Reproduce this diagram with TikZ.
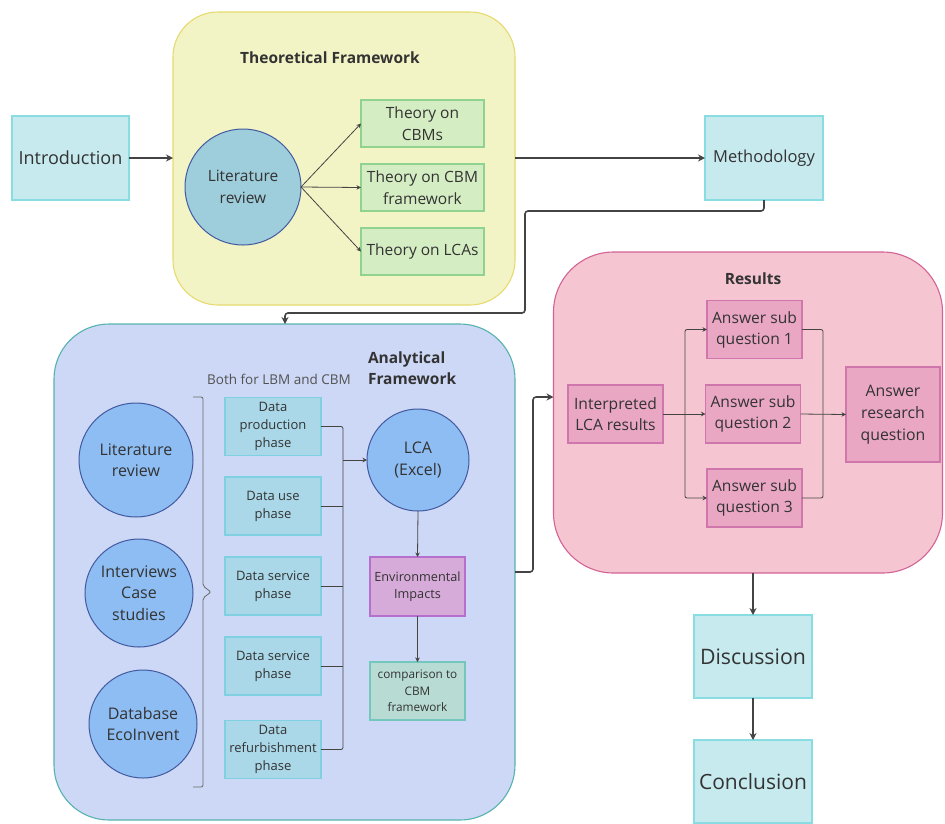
\documentclass[tikz,border=0pt]{standalone}
\usepackage{fontspec}
\setmainfont{Open Sans}
\usetikzlibrary{arrows.meta}

\definecolor{ink}{HTML}{333333}
\definecolor{wire}{HTML}{444444}
\definecolor{cyanfill}{HTML}{C6EAEE}
\definecolor{cyanline}{HTML}{8ADCE3}
\definecolor{theofill}{HTML}{F3F4C6}
\definecolor{theoline}{HTML}{E6DA70}
\definecolor{tealcirc}{HTML}{9ECDDB}
\definecolor{circline}{HTML}{4259A0}
\definecolor{greenfill}{HTML}{D5EDC3}
\definecolor{greenline}{HTML}{90D38F}
\definecolor{anafill}{HTML}{CDD8F6}
\definecolor{analine}{HTML}{56B3AD}
\definecolor{bluecirc}{HTML}{8DBDF2}
\definecolor{datafill}{HTML}{AAD8E9}
\definecolor{dataline}{HTML}{7FD0E0}
\definecolor{envfill}{HTML}{D7ABD9}
\definecolor{envline}{HTML}{B56FCD}
\definecolor{compfill}{HTML}{B8DCD4}
\definecolor{compline}{HTML}{73C7BD}
\definecolor{resfill}{HTML}{F5C6D1}
\definecolor{resline}{HTML}{D46295}
\definecolor{qfill}{HTML}{E9A7C3}
\definecolor{qline}{HTML}{CF77AC}

\newcommand\myfs[2]{\fontsize{#1}{#2}\selectfont}

\begin{document}
\begin{tikzpicture}[x=1pt,y=-1pt,
  base/.style={inner sep=0pt, outer sep=0pt, align=center, text=ink},
  box/.style={base, draw, rectangle, line width=1.1pt},
  frame/.style={base, draw, rectangle, line width=1.1pt},
  disc/.style={base, draw, circle, line width=1pt},
  heading/.style={base, font=\bfseries\myfs{15.5}{21}},
  bigarrow/.style={draw=wire, line width=1.6pt, -{Stealth[length=7pt,width=7pt]}},
  bigline/.style={draw=wire, line width=1.6pt},
  thinarrow/.style={draw=wire, line width=0.8pt, -{Stealth[length=4.5pt,width=4.5pt]}},
  thinline/.style={draw=wire, line width=0.8pt},
  mainbox/.style={box, fill=cyanfill, draw=cyanline},
  theorybox/.style={box, fill=greenfill, draw=greenline, minimum width=123pt, minimum height=47pt, font=\myfs{15.5}{22}},
  databox/.style={box, fill=datafill, draw=dataline, minimum width=96pt, minimum height=58pt, font=\myfs{13}{18}},
  qbox/.style={box, fill=qfill, draw=qline, minimum width=95pt, minimum height=58pt, font=\myfs{15.6}{21}},
  inputdisc/.style={disc, fill=bluecirc, draw=circline, font=\myfs{16}{21.5}}
]
\useasboundingbox (0,0) rectangle (945,823);

% ---- containers
\node[frame, fill=theofill, draw=theoline, rounded corners=45pt,
      minimum width=342pt, minimum height=293pt] (theo) at (344,158.5) {};
\node[frame, fill=anafill, draw=analine, rounded corners=55pt,
      minimum width=461pt, minimum height=496pt] (ana) at (284.5,572) {};
\node[frame, fill=resfill, draw=resline, rounded corners=60pt,
      minimum width=389pt, minimum height=321pt] (res) at (748,412.5) {};

\node[heading] (theotitle) at (330,58) {Theoretical Framework};
\node[heading, align=left, anchor=west] (anatitle) at (368,368.5) {Analytical\\Framework};
\node[heading] (restitle) at (753,279) {Results};
\node[base, text=ink!85, font=\myfs{13.5}{18}] (both) at (279,379) {Both for LBM and CBM};

% ---- main chapter boxes
\node[mainbox, minimum width=117pt, minimum height=84pt, font=\myfs{18}{24}] (intro) at (70.5,158) {Introduction};
\node[mainbox, minimum width=118pt, minimum height=84pt, font=\myfs{16.5}{22}] (meth) at (764,158) {\raisebox{-2pt}{Methodology}};
\node[mainbox, minimum width=118pt, minimum height=83pt, font=\myfs{21.3}{25}] (discu) at (753,656.5) {Discussion};
\node[mainbox, minimum width=118pt, minimum height=83pt, font=\myfs{21}{25}] (concl) at (753,781.5) {Conclusion};

% ---- theoretical framework
\node[disc, fill=tealcirc, draw=circline, minimum size=116pt, font=\myfs{15.5}{22}] (lit1) at (243,187) {Literature\\review};
\node[theorybox] (tcbm) at (422.5,123.5) {Theory on\\CBMs};
\node[theorybox] (tfw) at (422.5,187.5) {Theory on CBM\\framework};
\node[theorybox] (tlca) at (422.5,251.5) {Theory on LCAs};

% ---- analytical framework
\node[inputdisc, minimum size=114pt] (lit2) at (136,460) {Literature\\review};
\node[inputdisc, minimum size=108pt] (intv) at (139,593) {Interviews\\Case\\studies};
\node[inputdisc, minimum size=108pt] (dbase) at (143,724) {Database\\EcoInvent};

\node[databox] (d1) at (273,426.5) {Data\\production\\phase};
\node[databox] (d2) at (273,506) {Data use\\phase};
\node[databox] (d3) at (273,586) {Data service\\phase};
\node[databox] (d4) at (273,666) {Data service\\phase};
\node[databox] (d5) at (273,749.5) {Data\\refurbishment\\phase};

\node[inputdisc, minimum size=102pt] (lca) at (418,460) {LCA\\(Excel)};
\node[box, fill=envfill, draw=envline, minimum width=95pt, minimum height=59pt, font=\myfs{12.7}{16.5}] (env) at (417.5,586.5) {Environmental\\Impacts};
\node[box, fill=compfill, draw=compline, minimum width=95pt, minimum height=58pt, font=\myfs{11.8}{16.5}] (comp) at (417.5,691) {comparison to\\CBM\\framework};

% curly bracket grouping the data sources
\draw[wire!80, line width=0.8pt, rounded corners=2pt]
  (193,397) -- (203,397) -- (203,586) -- (211,592) -- (203,598) -- (203,787) -- (193,787);

% ---- results
\node[qbox] (interp) at (615.5,414) {Interpreted\\LCA results};
\node[qbox] (q1) at (754.5,329.5) {Answer sub\\question 1};
\node[qbox] (q2) at (753,414) {Answer sub\\question 2};
\node[qbox] (q3) at (754.5,498) {Answer sub\\question 3};
\node[qbox, minimum width=94pt, minimum height=95pt, font=\myfs{15.8}{22}] (rq) at (893,414.5) {Answer\\research\\question};

% ---- connectors: chapter flow
\draw[bigarrow] (intro.east) -- (theo.west |- intro.east);
\draw[bigarrow] (theo.east |- meth.west) -- (meth.west);
\coordinate (mturn) at (525,211);
\coordinate (adrop) at (285,313);
\draw[bigarrow, rounded corners=3pt] (meth.south) |- (mturn) |- (adrop) -- (adrop |- ana.north);
\coordinate (rturn) at (533,397);
\draw[bigarrow, rounded corners=3pt] (ana.east) -| (rturn) -- (res.west |- rturn);
\draw[bigarrow] (discu.north |- res.south) -- (discu.north);
\draw[bigarrow] (discu.south) -- (concl.north);

% ---- connectors: theoretical framework
\draw[thinarrow] (lit1.east) -- (tcbm.west);
\draw[thinarrow] (lit1.east) -- (tfw.west);
\draw[thinarrow] (lit1.east) -- (tlca.west);

% ---- connectors: data collection bus into the LCA
\coordinate (bus) at (343,0);
\draw[thinline, rounded corners=2pt] (d1.east) -| (bus |- d5.east) -- (d5.east);
\draw[thinline] (d2.east) -- (bus |- d2.east);
\draw[thinline] (d3.east) -- (bus |- d3.east);
\draw[thinline] (d4.east) -- (bus |- d4.east);
\draw[thinarrow] (bus |- lca.west) -- (lca.west);
\draw[thinarrow] (lca.south) -- (env.north);
\draw[thinarrow] (env.south) -- (comp.north);

% ---- connectors: results
\coordinate (split) at (685,0);
\coordinate (merge) at (823,0);
\draw[thinarrow] (interp.east) -- (q2.west);
\draw[thinarrow, rounded corners=2pt] (split |- interp.east) |- (q1.west);
\draw[thinarrow, rounded corners=2pt] (split |- interp.east) |- (q3.west);
\draw[thinline, rounded corners=2pt] (q1.east) -| (merge |- q3.east) -- (q3.east);
\draw[thinarrow] (q2.east) -- (rq.west);
\end{tikzpicture}
\end{document}
